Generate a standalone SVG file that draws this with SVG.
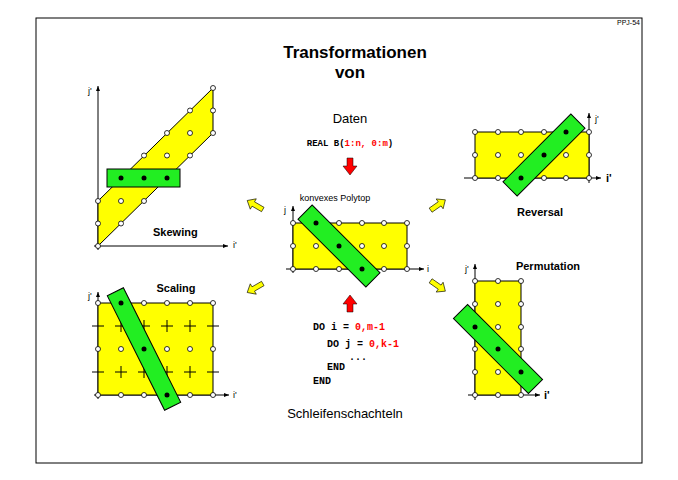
<svg xmlns="http://www.w3.org/2000/svg" width="678" height="480" viewBox="0 0 678 480">
<style>
.ax{stroke:#000;stroke-width:1;fill:none}
.poly{fill:#ffff00;stroke:#000;stroke-width:1}
.band{fill:#22ee22;stroke:#000;stroke-width:1}
.o{fill:#fff;stroke:#000;stroke-width:0.8}
.f{fill:#000}
.lb{font-family:"Liberation Sans",Arial,sans-serif;font-size:9px;fill:#000}
.bt{font-family:"Liberation Sans",Arial,sans-serif;font-size:11px;font-weight:bold;fill:#000}
.code{font-family:"Liberation Mono","Courier New",monospace;font-size:10px;font-weight:bold;fill:#000}
.r{fill:#ff0000}
.ya{fill:#ffff00;stroke:#000;stroke-width:0.6}
</style>
<defs>
<marker id="ah" markerWidth="6" markerHeight="6" refX="5" refY="3" orient="auto"><path d="M0,1 L5,3 L0,5 Z" fill="#000"/></marker>
<path id="yarr" d="M-9,-2.5 L2,-2.5 L2,-6 L9,0 L2,6 L2,2.5 L-9,2.5 Z"/>
</defs>
<rect x="36" y="18" width="606" height="445" fill="#fff" stroke="#000"/>
<text x="640" y="25" class="lb" text-anchor="end" style="font-size:7px">PPJ-54</text>
<text x="355" y="58" text-anchor="middle" style="font-family:'Liberation Sans',Arial,sans-serif;font-size:17px;font-weight:bold">Transformationen</text>
<text x="350" y="78" text-anchor="middle" style="font-family:'Liberation Sans',Arial,sans-serif;font-size:17px;font-weight:bold">von</text>

<g id="skewing">
<line class="ax" x1="98" y1="250" x2="98" y2="86" marker-end="url(#ah)"/>
<line class="ax" x1="94" y1="246" x2="228" y2="246" marker-end="url(#ah)"/>
<polygon class="poly" points="98,246 98,201 213,88 213,133"/>
<rect class="band" x="107" y="169" width="73" height="18"/>
<g>
<circle class="o" cx="98" cy="246" r="2.5"/><circle class="o" cx="98" cy="223.5" r="2.5"/><circle class="o" cx="98" cy="201" r="2.5"/>
<circle class="o" cx="121" cy="223.5" r="2.5"/><circle class="o" cx="121" cy="201" r="2.5"/>
<circle class="o" cx="144" cy="201" r="2.5"/><circle class="o" cx="144" cy="155.5" r="2.5"/>
<circle class="o" cx="167" cy="155.5" r="2.5"/><circle class="o" cx="167" cy="133" r="2.5"/>
<circle class="o" cx="190" cy="155.5" r="2.5"/><circle class="o" cx="190" cy="133" r="2.5"/><circle class="o" cx="190" cy="110.5" r="2.5"/>
<circle class="o" cx="213" cy="133" r="2.5"/><circle class="o" cx="213" cy="110.5" r="2.5"/><circle class="o" cx="213" cy="88" r="2.5"/>
<circle class="f" cx="121" cy="178" r="2.5"/><circle class="f" cx="144" cy="178" r="2.5"/><circle class="f" cx="167" cy="178" r="2.5"/>
</g>
<text x="88" y="94" class="lb">j'</text>
<text x="233" y="248" class="lb">i'</text>
<text x="153" y="236" class="bt">Skewing</text>
</g>

<g id="center">
<text x="350" y="123" text-anchor="middle" style="font-family:'Liberation Sans',Arial,sans-serif;font-size:13px">Daten</text>
<text x="350" y="146" text-anchor="middle" class="code" style="font-size:9px">REAL B(<tspan class="r">1:n, 0:m</tspan>)</text>
<path d="M347,158 L353,158 L353,166 L357,166 L350,175 L343,166 L347,166 Z" fill="#ff0000" stroke="#000" stroke-width="0.5"/>
<text x="335" y="201" text-anchor="middle" class="lb">konvexes Polytop</text>
<line class="ax" x1="293" y1="273" x2="293" y2="206" marker-end="url(#ah)"/>
<line class="ax" x1="286" y1="269" x2="424" y2="269" marker-end="url(#ah)"/>
<rect class="poly" x="293" y="223" width="114" height="46"/>
<rect class="band" x="291" y="236" width="96" height="20" transform="rotate(45 339 246)"/>
<g>
<circle class="o" cx="293" cy="223" r="2.5"/><circle class="o" cx="339" cy="223" r="2.5"/><circle class="o" cx="362" cy="223" r="2.5"/><circle class="o" cx="384" cy="223" r="2.5"/><circle class="o" cx="407" cy="223" r="2.5"/>
<circle class="o" cx="293" cy="246" r="2.5"/><circle class="o" cx="316" cy="246" r="2.5"/><circle class="o" cx="362" cy="246" r="2.5"/><circle class="o" cx="384" cy="246" r="2.5"/><circle class="o" cx="407" cy="246" r="2.5"/>
<circle class="o" cx="293" cy="269" r="2.5"/><circle class="o" cx="316" cy="269" r="2.5"/><circle class="o" cx="339" cy="269" r="2.5"/><circle class="o" cx="384" cy="269" r="2.5"/><circle class="o" cx="407" cy="269" r="2.5"/>
<circle class="f" cx="316" cy="223" r="2.5"/><circle class="f" cx="339" cy="246" r="2.5"/><circle class="f" cx="362" cy="269" r="2.5"/>
</g>
<text x="284" y="213" class="lb">j</text>
<text x="427" y="272" class="lb">i</text>
<path d="M347,312 L353,312 L353,304 L357,304 L350,295 L343,304 L347,304 Z" fill="#ff0000" stroke="#000" stroke-width="0.5"/>
<text x="313" y="330" class="code">DO i = <tspan class="r">0,m-1</tspan></text>
<text x="327" y="347" class="code">DO j = <tspan class="r">0,k-1</tspan></text>
<text x="349" y="360" class="code">...</text>
<text x="327" y="370" class="code">END</text>
<text x="313" y="384" class="code">END</text>
<text x="345" y="418" text-anchor="middle" style="font-family:'Liberation Sans',Arial,sans-serif;font-size:13px">Schleifenschachteln</text>
</g>

<g id="reversal">
<line class="ax" x1="464" y1="178" x2="601" y2="178" marker-end="url(#ah)"/>
<line class="ax" x1="589" y1="183" x2="589" y2="113" marker-end="url(#ah)"/>
<rect class="poly" x="475" y="132" width="114" height="46"/>
<rect class="band" x="496" y="145" width="96" height="20" transform="rotate(-45 544 155)"/>
<g>
<circle class="o" cx="475" cy="132" r="2.5"/><circle class="o" cx="498" cy="132" r="2.5"/><circle class="o" cx="521" cy="132" r="2.5"/><circle class="o" cx="544" cy="132" r="2.5"/><circle class="o" cx="589" cy="132" r="2.5"/>
<circle class="o" cx="475" cy="155" r="2.5"/><circle class="o" cx="498" cy="155" r="2.5"/><circle class="o" cx="521" cy="155" r="2.5"/><circle class="o" cx="566" cy="155" r="2.5"/><circle class="o" cx="589" cy="155" r="2.5"/>
<circle class="o" cx="475" cy="178" r="2.5"/><circle class="o" cx="498" cy="178" r="2.5"/><circle class="o" cx="544" cy="178" r="2.5"/><circle class="o" cx="566" cy="178" r="2.5"/><circle class="o" cx="589" cy="178" r="2.5"/>
<circle class="f" cx="566" cy="132" r="2.5"/><circle class="f" cx="544" cy="155" r="2.5"/><circle class="f" cx="521" cy="178" r="2.5"/>
</g>
<text x="595" y="122" class="lb">j'</text>
<text x="606" y="182" class="bt">i'</text>
<text x="540" y="216" text-anchor="middle" class="bt">Reversal</text>
</g>

<g id="scaling">
<line class="ax" x1="98" y1="399" x2="98" y2="292" marker-end="url(#ah)"/>
<line class="ax" x1="94" y1="395" x2="229" y2="395" marker-end="url(#ah)"/>
<rect class="poly" x="98" y="303" width="115" height="92"/>
<path class="ax" d="M92,326h12M115,326h12M138,326h12M161,326h12M184,326h12M207,326h12M121,320v12M144,320v12M167,320v12M190,320v12M92,372h12M115,372h12M138,372h12M161,372h12M184,372h12M207,372h12M121,366v12M144,366v12M167,366v12M190,366v12"/>
<rect class="band" x="80" y="340" width="128" height="18" transform="rotate(63.4 144 349)"/>
<g>
<circle class="o" cx="98" cy="303" r="2.5"/><circle class="o" cx="144" cy="303" r="2.5"/><circle class="o" cx="167" cy="303" r="2.5"/><circle class="o" cx="190" cy="303" r="2.5"/><circle class="o" cx="213" cy="303" r="2.5"/>
<circle class="o" cx="98" cy="349" r="2.5"/><circle class="o" cx="121" cy="349" r="2.5"/><circle class="o" cx="167" cy="349" r="2.5"/><circle class="o" cx="190" cy="349" r="2.5"/><circle class="o" cx="213" cy="349" r="2.5"/>
<circle class="o" cx="98" cy="395" r="2.5"/><circle class="o" cx="121" cy="395" r="2.5"/><circle class="o" cx="144" cy="395" r="2.5"/><circle class="o" cx="190" cy="395" r="2.5"/><circle class="o" cx="213" cy="395" r="2.5"/>
<circle class="f" cx="121" cy="303" r="2.5"/><circle class="f" cx="144" cy="349" r="2.5"/><circle class="f" cx="167" cy="395" r="2.5"/>
</g>
<text x="88" y="299" class="lb">j'</text>
<text x="233" y="398" class="lb">i'</text>
<text x="176" y="292" text-anchor="middle" class="bt">Scaling</text>
</g>

<g id="permutation">
<line class="ax" x1="475" y1="400" x2="475" y2="264" marker-end="url(#ah)"/>
<line class="ax" x1="468" y1="395" x2="540" y2="395" marker-end="url(#ah)"/>
<rect class="poly" x="475" y="281" width="46" height="114"/>
<rect class="band" x="445" y="339" width="106" height="20" transform="rotate(45 498 349)"/>
<g>
<circle class="o" cx="475" cy="281" r="2.5"/><circle class="o" cx="498" cy="281" r="2.5"/><circle class="o" cx="521" cy="281" r="2.5"/>
<circle class="o" cx="475" cy="304" r="2.5"/><circle class="o" cx="498" cy="304" r="2.5"/><circle class="o" cx="521" cy="304" r="2.5"/>
<circle class="o" cx="498" cy="327" r="2.5"/><circle class="o" cx="521" cy="327" r="2.5"/>
<circle class="o" cx="475" cy="349" r="2.5"/><circle class="o" cx="521" cy="349" r="2.5"/>
<circle class="o" cx="475" cy="372" r="2.5"/><circle class="o" cx="498" cy="372" r="2.5"/>
<circle class="o" cx="475" cy="395" r="2.5"/><circle class="o" cx="498" cy="395" r="2.5"/><circle class="o" cx="521" cy="395" r="2.5"/>
<circle class="f" cx="475" cy="327" r="2.5"/><circle class="f" cx="498" cy="349" r="2.5"/><circle class="f" cx="521" cy="372" r="2.5"/>
</g>
<text x="465" y="272" class="lb">j'</text>
<text x="544" y="399" class="bt">i'</text>
<text x="548" y="270" text-anchor="middle" class="bt">Permutation</text>
</g>

<g id="connectors">
<use href="#yarr" class="ya" transform="translate(255,205) rotate(-150)"/>
<use href="#yarr" class="ya" transform="translate(438,205) rotate(-35)"/>
<use href="#yarr" class="ya" transform="translate(255,288) rotate(150)"/>
<use href="#yarr" class="ya" transform="translate(438,286) rotate(35)"/>
</g>
</svg>
